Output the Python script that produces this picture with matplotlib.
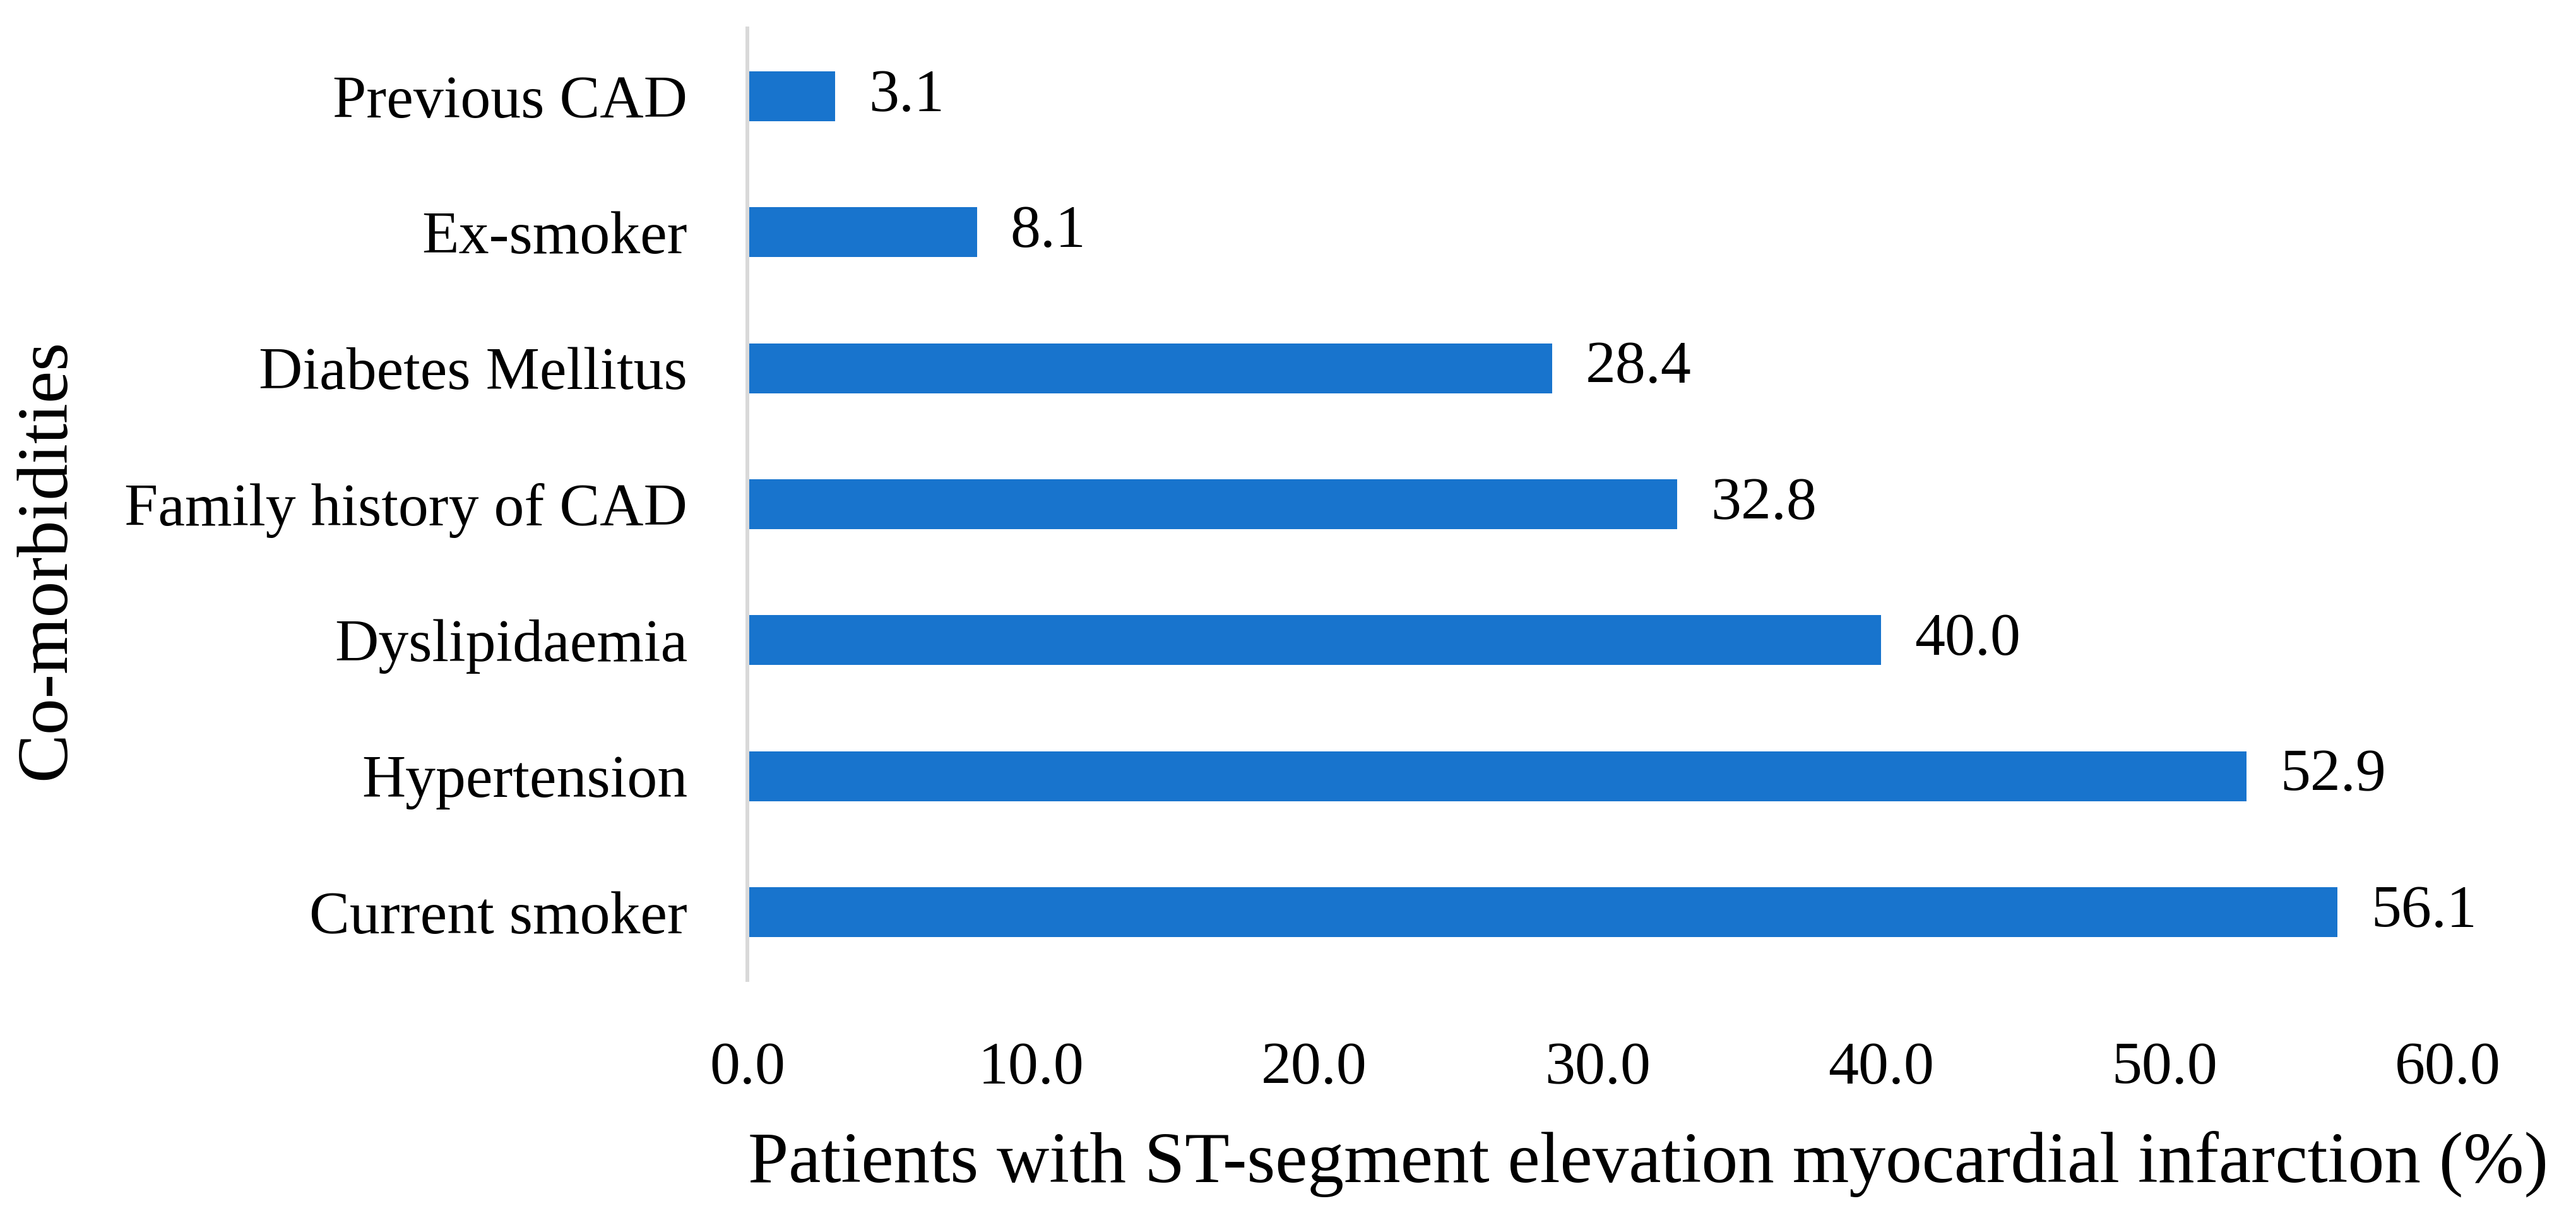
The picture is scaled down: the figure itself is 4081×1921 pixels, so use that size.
import matplotlib
matplotlib.use('Agg')
from matplotlib import pyplot as plt
import numpy as np

# data, bottom to top
categories = ['Current smoker', 'Hypertension', 'Dyslipidaemia',
              'Family history of CAD', 'Diabetes Mellitus', 'Ex-smoker',
              'Previous CAD']
values = [56.1, 52.9, 40.0, 32.8, 28.4, 8.1, 3.1]
xticks = [0, 10, 20, 30, 40, 50, 60]

plt.rcParams['font.family'] = ['Liberation Serif', 'DejaVu Serif']

fig = plt.figure(figsize=(4081 / 300, 1921 / 300), dpi=300)
ax = fig.add_axes([1184 / 4081, 1 - 1552 / 1921, (3878 - 1184) / 4081, (1552 - 45) / 1921])

y = np.arange(len(categories))
bars = ax.barh(y, values, height=0.367, color='#1874CD')
ax.bar_label(bars, labels=['%.1f' % v for v in values], padding=12.7, fontsize=23)

ax.set_xlim(0, 60)
ax.set_ylim(-0.5, len(categories) - 0.5)
ax.set_yticks(y)
ax.set_yticklabels(categories, fontsize=23)
ax.set_xticks(xticks)
ax.set_xticklabels(['%.1f' % t for t in xticks], fontsize=23)
ax.tick_params(axis='both', length=0)
ax.tick_params(axis='y', pad=22.8)
ax.tick_params(axis='x', pad=23.5)

for s in ['top', 'right', 'bottom']:
    ax.spines[s].set_visible(False)
ax.spines['left'].set_color('#d9d9d9')
ax.spines['left'].set_linewidth(1.44)

fig.text(2611 / 4081, 1 - 1872 / 1921, 'Patients with ST-segment elevation myocardial infarction (%)',
         fontsize=27.7, ha='center', va='baseline')
fig.text(75 / 4081, 1 - 886 / 1921, 'Co-morbidities', fontsize=27.7, rotation=90,
         ha='center', va='center')

fig.savefig('out.png', dpi=300)
